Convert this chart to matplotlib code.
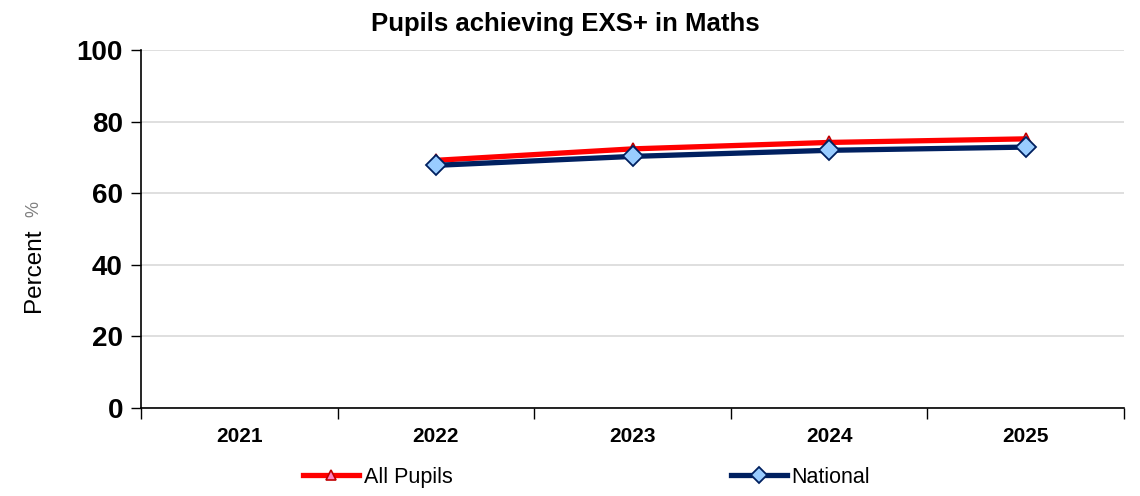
import numpy as np
import matplotlib
matplotlib.use("Agg")
import matplotlib.pyplot as plt
from matplotlib.ticker import FixedLocator

plt.rcParams['font.family'] = ['Liberation Sans', 'DejaVu Sans']

# Data
years = ["2021", "2022", "2023", "2024", "2025"]
all_pupils = [np.nan, 69.2, 72.4, 74.2, 75.2]
national = [np.nan, 67.8, 70.3, 72.0, 72.9]

C_RED = "#FF0000"
C_NAVY = "#002060"

fig = plt.figure(figsize=(11.4, 4.96), dpi=100)
ax = fig.add_axes([0.1237, 0.1774, 0.8623, 0.7216])

x = np.arange(len(years))
ax.plot(x, all_pupils, color=C_RED, linewidth=3.8, marker="^", markersize=9,
        markerfacecolor="#FF80C0", markeredgecolor="#C00000", markeredgewidth=1.2,
        label="All Pupils", zorder=3)
ax.plot(x, national, color=C_NAVY, linewidth=3.8, marker="D", markersize=10,
        markerfacecolor="#99CCFF", markeredgecolor=C_NAVY, markeredgewidth=1.3,
        label="National", zorder=4)

ax.set_xlim(-0.5, len(years) - 0.5)
ax.set_ylim(0, 100)
ax.set_yticks(range(0, 101, 20))
ax.set_yticklabels([str(v) for v in range(0, 101, 20)], fontsize=20, fontweight="bold")
ax.set_xticks(x)
ax.set_xticklabels(years, fontsize=15, fontweight="bold")
ax.tick_params(axis="x", which="major", length=0, pad=14)
ax.xaxis.set_minor_locator(FixedLocator(np.arange(-0.5, len(years), 1.0)))
ax.tick_params(axis="x", which="minor", length=8, width=1, color="black")
ax.tick_params(axis="y", length=7, width=1, color="black", pad=6)

ax.grid(axis="y", color="#D9D9D9", linewidth=1.2, zorder=0)
ax.set_axisbelow(True)
for s in ["top", "right"]:
    ax.spines[s].set_visible(False)
for s in ["left", "bottom"]:
    ax.spines[s].set_color("black")
    ax.spines[s].set_linewidth(1.2)

# y label: "Percent" with a smaller, lighter "%"
fig.text(0.030, 0.455, "Percent", rotation=90, fontsize=17.5, ha="center", va="center")
fig.text(0.030, 0.578, "%", rotation=90, fontsize=13, color="#7F7F7F", ha="center", va="center")

fig.text(0.496, 0.952, "Pupils achieving EXS+ in Maths", fontsize=18.5,
         fontweight="bold", ha="center", va="center")

fig.legend(loc="center left", bbox_to_anchor=(0.266, 0.038), ncol=2, frameon=False,
           fontsize=15.5, handlelength=2.6, handletextpad=0.23, columnspacing=12.9,
           markerscale=0.85, borderaxespad=0, borderpad=0)

fig.savefig("out.png", dpi=100)
